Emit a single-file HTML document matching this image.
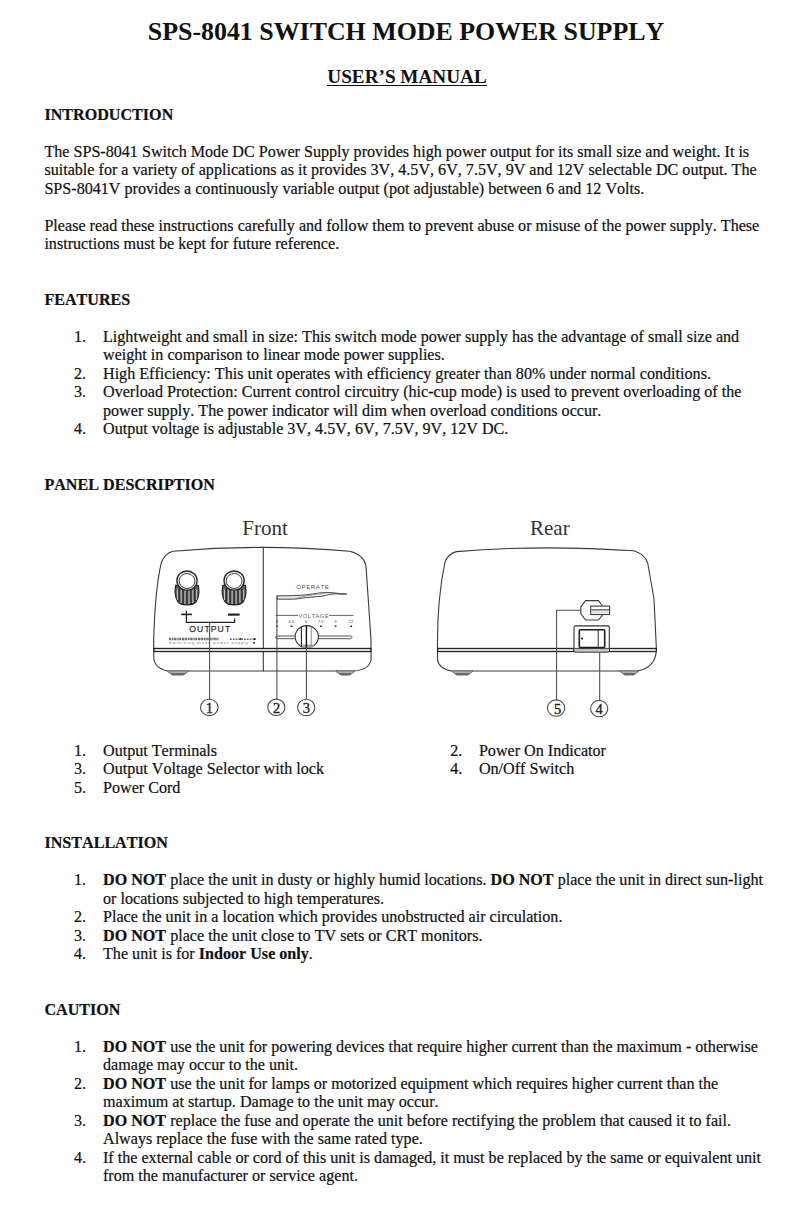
<!DOCTYPE html>
<html><head><meta charset="utf-8"><style>
html,body{margin:0;padding:0;background:#fff;}
body{font-kerning:none;width:808px;height:1207px;position:relative;overflow:hidden;font-family:"Liberation Serif",serif;color:#111;}
.l{position:absolute;white-space:nowrap;font-kerning:none;-webkit-text-stroke:0.2px #111;font-size:16.12px;line-height:18.5px;}
.b{font-weight:bold;}
.title,.sub{position:absolute;left:0;width:808px;text-align:center;font-weight:bold;white-space:nowrap;line-height:normal;}
.ul{position:absolute;left:327px;top:84.8px;width:159.5px;height:1.6px;background:#111;}
svg{position:absolute;left:0;top:0;}
</style></head><body>
<div class="title" style="left:2px;top:17.32px;font-size:25.9px">SPS-8041 SWITCH MODE POWER SUPPLY</div>
<div class="sub" style="left:3px;top:66.09px;font-size:19.2px"><span>USER’S MANUAL</span></div>
<div class="ul"></div>
<div class="l b" style="left:44.4px;top:106.21px">INTRODUCTION</div>
<div class="l " style="left:44.4px;top:142.81px">The SPS-8041 Switch Mode DC Power Supply provides high power output for its small size and weight. It is</div>
<div class="l " style="left:44.4px;top:161.31px">suitable for a variety of applications as it provides 3V, 4.5V, 6V, 7.5V, 9V and 12V selectable DC output. The</div>
<div class="l " style="left:44.4px;top:179.81px">SPS-8041V provides a continuously variable output (pot adjustable) between 6 and 12 Volts.</div>
<div class="l " style="left:44.4px;top:216.81px">Please read these instructions carefully and follow them to prevent abuse or misuse of the power supply. These</div>
<div class="l " style="left:44.4px;top:235.31px">instructions must be kept for future reference.</div>
<div class="l b" style="left:44.4px;top:290.81px">FEATURES</div>
<div class="l " style="left:74.0px;top:327.81px">1.</div>
<div class="l " style="left:103.0px;top:327.81px">Lightweight and small in size: This switch mode power supply has the advantage of small size and</div>
<div class="l " style="left:103.0px;top:346.31px">weight in comparison to linear mode power supplies.</div>
<div class="l " style="left:74.0px;top:364.81px">2.</div>
<div class="l " style="left:103.0px;top:364.81px">High Efficiency: This unit operates with efficiency greater than 80% under normal conditions.</div>
<div class="l " style="left:74.0px;top:383.31px">3.</div>
<div class="l " style="left:103.0px;top:383.31px">Overload Protection: Current control circuitry (hic-cup mode) is used to prevent overloading of the</div>
<div class="l " style="left:103.0px;top:401.81px">power supply. The power indicator will dim when overload conditions occur.</div>
<div class="l " style="left:74.0px;top:420.31px">4.</div>
<div class="l " style="left:103.0px;top:420.31px">Output voltage is adjustable 3V, 4.5V, 6V, 7.5V, 9V, 12V DC.</div>
<div class="l b" style="left:44.4px;top:475.81px">PANEL DESCRIPTION</div>
<div class="l " style="left:74.0px;top:741.81px">1.</div>
<div class="l " style="left:103.0px;top:741.81px">Output Terminals</div>
<div class="l " style="left:450.2px;top:741.81px">2.</div>
<div class="l " style="left:478.9px;top:741.81px">Power On Indicator</div>
<div class="l " style="left:74.0px;top:760.31px">3.</div>
<div class="l " style="left:103.0px;top:760.31px">Output Voltage Selector with lock</div>
<div class="l " style="left:450.2px;top:760.31px">4.</div>
<div class="l " style="left:478.9px;top:760.31px">On/Off Switch</div>
<div class="l " style="left:74.0px;top:778.81px">5.</div>
<div class="l " style="left:103.0px;top:778.81px">Power Cord</div>
<div class="l b" style="left:44.4px;top:834.31px">INSTALLATION</div>
<div class="l " style="left:74.0px;top:871.31px">1.</div>
<div class="l " style="left:103.0px;top:871.31px"><b>DO NOT</b> place the unit in dusty or highly humid locations. <b>DO NOT</b> place the unit in direct sun-light</div>
<div class="l " style="left:103.0px;top:889.81px">or locations subjected to high temperatures.</div>
<div class="l " style="left:74.0px;top:908.31px">2.</div>
<div class="l " style="left:103.0px;top:908.31px">Place the unit in a location which provides unobstructed air circulation.</div>
<div class="l " style="left:74.0px;top:926.81px">3.</div>
<div class="l " style="left:103.0px;top:926.81px"><b>DO NOT</b> place the unit close to TV sets or CRT monitors.</div>
<div class="l " style="left:74.0px;top:945.31px">4.</div>
<div class="l " style="left:103.0px;top:945.31px">The unit is for <b>Indoor Use only</b>.</div>
<div class="l b" style="left:44.4px;top:1000.81px">CAUTION</div>
<div class="l " style="left:74.0px;top:1037.81px">1.</div>
<div class="l " style="left:103.0px;top:1037.81px"><b>DO NOT</b> use the unit for powering devices that require higher current than the maximum - otherwise</div>
<div class="l " style="left:103.0px;top:1056.31px">damage may occur to the unit.</div>
<div class="l " style="left:74.0px;top:1074.81px">2.</div>
<div class="l " style="left:103.0px;top:1074.81px"><b>DO NOT</b> use the unit for lamps or motorized equipment which requires higher current than the</div>
<div class="l " style="left:103.0px;top:1093.31px">maximum at startup. Damage to the unit may occur.</div>
<div class="l " style="left:74.0px;top:1111.81px">3.</div>
<div class="l " style="left:103.0px;top:1111.81px"><b>DO NOT</b> replace the fuse and operate the unit before rectifying the problem that caused it to fail.</div>
<div class="l " style="left:103.0px;top:1130.31px">Always replace the fuse with the same rated type.</div>
<div class="l " style="left:74.0px;top:1148.81px">4.</div>
<div class="l " style="left:103.0px;top:1148.81px">If the external cable or cord of this unit is damaged, it must be replaced by the same or equivalent unit</div>
<div class="l " style="left:103.0px;top:1167.31px">from the manufacturer or service agent.</div>
<svg width="808" height="1207" viewBox="0 0 808 1207">

<g fill="none" stroke="#3a3a3a" stroke-width="1.1" stroke-linecap="round" stroke-linejoin="round">
  <!-- FRONT body -->
  <path d="M172.7,551.3 Q263,543.5 350,551.3 Q364,555 366,566 L371,640 L371,660 Q369,670 353.6,671 L167.5,671 Q154,668 153.7,657 L153.7,640 Q155,590 161.3,562.7 Q165,553.5 172.7,551.3 Z"/>
  <path d="M263.3,547 V671"/>
  <!-- REAR body -->
  <path d="M456.2,551.6 Q540,544.5 633.7,550.8 Q645,554 647.8,563.5 L654,599 L656.4,649 Q656,668 637,671 L451,671 Q438,668 437.5,659 L437.5,648 Q437,600 445,562 Q448,554 456.2,551.6 Z"/>
</g>
<!-- bands -->
<rect x="153.9" y="648.4" width="217" height="3.2" fill="#d8d8d8" stroke="#1e1e1e" stroke-width="1.15"/>
<rect x="437.7" y="648.4" width="218.6" height="3.2" fill="#d8d8d8" stroke="#1e1e1e" stroke-width="1.15"/>
<!-- feet -->
<path d="M167.5,671 H188.3 Q187.3,673.2 185.3,673.4 H170.5 Q168.5,673.2 167.5,671Z" fill="#bbb" stroke="#555" stroke-width="0.8"/><path d="M170.3,673.2 H185.5 Q184.8,675.6 182.8,675.6 H173.0 Q171.0,675.6 170.3,673.2Z" fill="#666"/>
<path d="M336,671 H354.5 Q353.5,673.2 351.5,673.4 H339 Q337,673.2 336,671Z" fill="#bbb" stroke="#555" stroke-width="0.8"/><path d="M338.8,673.2 H351.7 Q351.0,675.6 349.0,675.6 H341.5 Q339.5,675.6 338.8,673.2Z" fill="#666"/>
<path d="M451.9,671 H472.7 Q471.7,673.2 469.7,673.4 H454.9 Q452.9,673.2 451.9,671Z" fill="#bbb" stroke="#555" stroke-width="0.8"/><path d="M454.7,673.2 H469.9 Q469.2,675.6 467.2,675.6 H457.4 Q455.4,675.6 454.7,673.2Z" fill="#666"/>
<path d="M620,671 H638.6 Q637.6,673.2 635.6,673.4 H623 Q621,673.2 620,671Z" fill="#bbb" stroke="#555" stroke-width="0.8"/><path d="M622.8,673.2 H635.8000000000001 Q635.1,675.6 633.1,675.6 H625.5 Q623.5,675.6 622.8,673.2Z" fill="#666"/>
<!-- knobs -->
<g transform="translate(187 580.6)">
  <path d="M-11.3,4.8 C-12.3,10 -12,16.5 -9.2,21 C-7,24 -3.5,24.3 0,24.3 C3.5,24.3 7,24 9.2,21 C12,16.5 12.3,10 11.3,4.8 Z" fill="#606060" stroke="#1f1f1f" stroke-width="1.2"/>
  <path d="M-9.6,9 V19.5 M-5.8,9.5 V22.5 M-2,10 V23.5 M2,10 V23.5 M5.8,9.5 V22.5 M9.6,9 V19.5" stroke="#c4c4c4" stroke-width="1"/>
  <path d="M-7.8,8 V21 M-3.9,9.5 V23.3 M0,10 V23.8 M3.9,9.5 V23.3 M7.8,8 V21" stroke="#222" stroke-width="1.05"/>
  <ellipse cx="0" cy="0" rx="10.1" ry="9.6" fill="#fff" stroke="#262626" stroke-width="1.35"/>
  <ellipse cx="0" cy="0.4" rx="7.9" ry="7.5" fill="#fff" stroke="#3a3a3a" stroke-width="1"/>
</g>
<g transform="translate(234.1 580.6)">
  <path d="M-11.3,4.8 C-12.3,10 -12,16.5 -9.2,21 C-7,24 -3.5,24.3 0,24.3 C3.5,24.3 7,24 9.2,21 C12,16.5 12.3,10 11.3,4.8 Z" fill="#606060" stroke="#1f1f1f" stroke-width="1.2"/>
  <path d="M-9.6,9 V19.5 M-5.8,9.5 V22.5 M-2,10 V23.5 M2,10 V23.5 M5.8,9.5 V22.5 M9.6,9 V19.5" stroke="#c4c4c4" stroke-width="1"/>
  <path d="M-7.8,8 V21 M-3.9,9.5 V23.3 M0,10 V23.8 M3.9,9.5 V23.3 M7.8,8 V21" stroke="#222" stroke-width="1.05"/>
  <ellipse cx="0" cy="0" rx="10.1" ry="9.6" fill="#fff" stroke="#262626" stroke-width="1.35"/>
  <ellipse cx="0" cy="0.4" rx="7.9" ry="7.5" fill="#fff" stroke="#3a3a3a" stroke-width="1"/>
</g>
<!-- + / - -->
<g stroke="#222" fill="none">
  <path d="M181.1,614.4 H192" stroke-width="1.6"/>
  <path d="M186.4,610.8 V622.4 H234.6 V618.6" stroke-width="1.2"/>
  <path d="M228,614.6 H239.6" stroke-width="2.2"/>
</g>
<text x="210.3" y="631.7" font-family="Liberation Sans" font-size="8.6" fill="#333" text-anchor="middle" letter-spacing="1.1" stroke="#333" stroke-width="0.25">OUTPUT</text>
<!-- tiny logo -->
<path d="M169,639 H218.5" fill="none" stroke="#707070" stroke-width="2.6" stroke-dasharray="2.2 0.7 1.6 0.6 2.4 0.8 1.4 0.5 2 0.7 2.6 0.6"/>
<path d="M207,639.4 H217" fill="none" stroke="#999" stroke-width="1"/>
<path d="M230,639.2 H256" fill="none" stroke="#6a6a6a" stroke-width="1.4" stroke-dasharray="1.8 1"/>
<circle cx="240.5" cy="639" r="1.1" fill="#333"/><circle cx="254.5" cy="639.1" r="1.1" fill="#333"/>
<text x="168.8" y="644.2" font-family="Liberation Sans" font-size="4.4" fill="#8a8a8a" letter-spacing="0.82">Switching mode power supply</text>
<circle cx="254" cy="642.8" r="1" fill="#333"/>
<!-- OPERATE -->
<text x="312.8" y="589.2" font-family="Liberation Sans" font-size="6.2" fill="#555" text-anchor="middle" letter-spacing="0.5">OPERATE</text>
<path d="M277.2,595.8 C290,595.8 298,595.6 306.7,594.7 C315,593.8 320,592.4 327.9,592.5 C335,592.6 340,594 346.8,594.1 C340,594.2 336,593.6 332.4,594.1 C326,595 324,596.2 320.1,596.4 C314,596.8 312,597.3 306.7,597.5 C300,598.6 296,599.2 292.3,599.2 L277.2,599.2 Z" fill="#e4e4e4" stroke="#4a4a4a" stroke-width="1"/>
<path d="M295,598.6 C305,596 312,594.5 325,593" fill="none" stroke="#888" stroke-width="0.8"/>
<!-- VOLTAGE -->
<g stroke="#555" stroke-width="0.9" fill="none">
  <path d="M275.6,615.4 H298 M329,615.4 H353.6"/>
</g>
<text x="313.8" y="617.8" font-family="Liberation Sans" font-size="5.8" fill="#666" text-anchor="middle" letter-spacing="0.45">VOLTAGE</text>
<g font-family="Liberation Sans" font-size="4.3" fill="#555" text-anchor="middle">
  <text x="276.6" y="622.6">3</text><text x="291.2" y="622.6">4.5</text><text x="306" y="622.6">6</text>
  <text x="320.7" y="622.6">7.5</text><text x="335.4" y="622.6">9</text><text x="351" y="622.6">12</text>
</g>
<g stroke="#333" stroke-width="1.4">
  <path d="M276,626.2 h1.8 M290.5,626.2 h1.8 M305.3,626.2 h1.8 M320,626.2 h1.8 M334.7,626.2 h1.8 M350.3,626.2 h1.8"/>
</g>
<!-- slider track -->
<rect x="275.6" y="636" width="76.3" height="2.7" rx="1.3" fill="#fff" stroke="#555" stroke-width="1"/>
<!-- slider knob -->
<ellipse cx="306.8" cy="636.7" rx="11.6" ry="11.1" fill="#fff" stroke="#333" stroke-width="1.1"/>
<path d="M299.5,644.6 H314.3 L312.5,647.8 H301.3 Z" fill="#aaa"/>
<path d="M301.4,627 V647" stroke="#222" stroke-width="1.1"/>
<path d="M306.4,625.8 V647.8" stroke="#111" stroke-width="1.4"/>
<path d="M311.2,626.5 V647" stroke="#888" stroke-width="1"/>
<!-- leader lines front -->
<g stroke="#4a4a4a" stroke-width="1.05" fill="none">
  <path d="M209.6,622.4 V699"/>
  <path d="M276.9,595.5 V699"/>
  <path d="M306.4,648 V699"/>
  <ellipse cx="209.3" cy="707.4" rx="8.8" ry="8.2"/>
  <ellipse cx="276.3" cy="707.3" rx="8.6" ry="8.2"/>
  <ellipse cx="306.2" cy="707.5" rx="8.6" ry="8.2"/>
</g>
<!-- rear plug -->
<path d="M585.5,600.6 H598.5 L602.2,605.5 V615.4 L598.5,620 H585.5 L580.8,613.6 V606.8 Z" fill="#fff" stroke="#3a3a3a" stroke-width="1.1" stroke-linejoin="round"/>
<rect x="590.7" y="606.1" width="18.9" height="8.4" fill="#fff" stroke="#3a3a3a" stroke-width="1.1"/>
<path d="M591.2,609.9 H609.2" stroke="#555" stroke-width="1.3"/>
<path d="M591.2,612.3 H609.2" stroke="#bbb" stroke-width="0.8"/>
<!-- rear switch -->
<path d="M574,651.5 V627.4 Q574,625.9 575.5,625.9 H607.8 Q609.3,625.9 609.3,627.4 V651.5" fill="#fff" stroke="#333" stroke-width="1.1"/>
<path d="M573.8,648.4 H609.5 V650 Q609.5,652.2 607,652.2 H576.3 Q573.8,652.2 573.8,650 Z" fill="#c4c4c4" stroke="#333" stroke-width="0.9"/>
<rect x="579.3" y="629.7" width="25.4" height="17.9" rx="1" fill="#fff" stroke="#1e1e1e" stroke-width="1.6"/>
<path d="M598.2,629.7 V647.6" stroke="#333" stroke-width="1"/>
<circle cx="582.1" cy="638.6" r="1.1" fill="#222"/>
<!-- leader lines rear -->
<g stroke="#4a4a4a" stroke-width="1.05" fill="none">
  <path d="M580.5,610.2 H556.6 V700"/>
  <path d="M599.7,652.4 V700"/>
  <ellipse cx="556.1" cy="708.1" rx="8.7" ry="8.2"/>
  <ellipse cx="599.2" cy="708.6" rx="8.6" ry="8.2"/>
</g>
<g font-family="Liberation Serif" font-size="14.5" fill="#222" stroke="#222" stroke-width="0.35" text-anchor="middle">
  <text x="209.3" y="712.8">1</text>
  <text x="276.6" y="712.8">2</text>
  <text x="306.4" y="712.8">3</text>
  <text x="599.2" y="713.8">4</text>
  <text x="557.7" y="713.8">5</text>
</g>
<g font-family="Liberation Serif" font-size="21" fill="#333">
  <text x="242.3" y="535">Front</text>
  <text x="530" y="535">Rear</text>
</g>
</svg>

</body></html>
